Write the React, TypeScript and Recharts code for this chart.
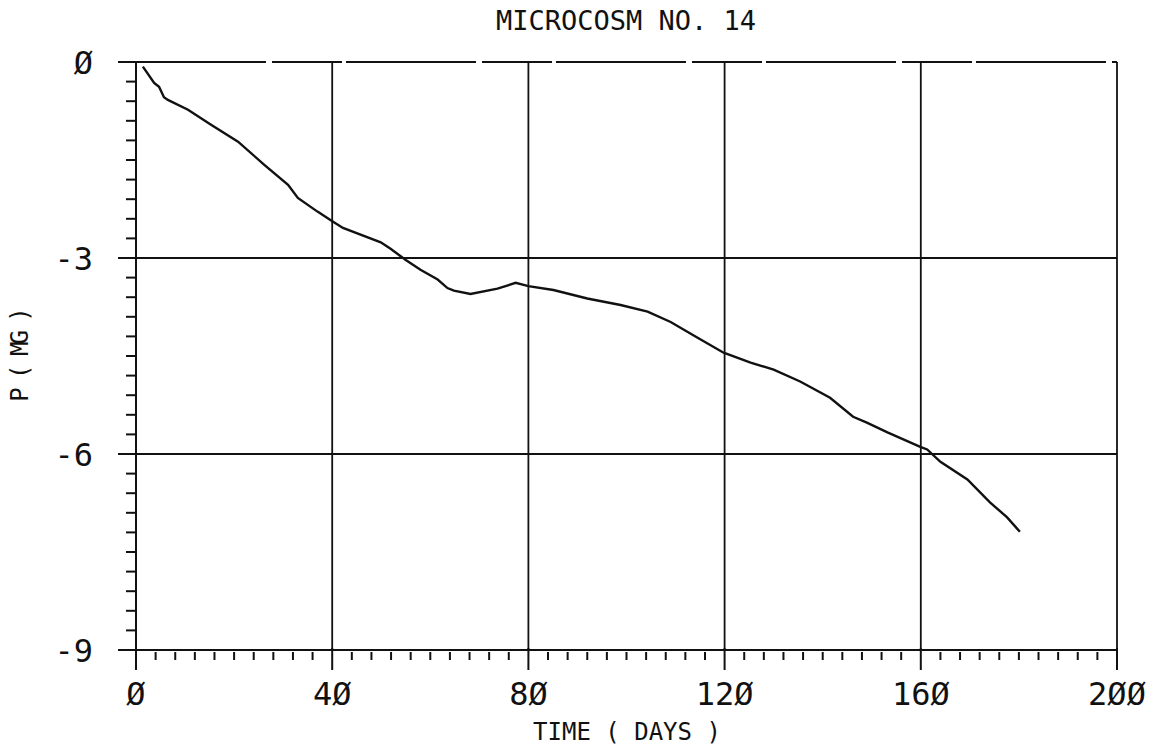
import React from 'react'
import { LineChart, Line, XAxis, YAxis, ReferenceLine } from 'recharts'

const days = [
  1.4, 3.7, 4.7, 5.7, 6.5, 10.6, 15.3, 20.8, 26.1, 31, 33, 37, 40.1, 42.2,
  49.9, 51.9, 55, 58, 61.5, 63.5, 64.8, 68.2, 73.7, 77.4, 80, 85.1, 92, 98.8,
  104.3, 109, 114.5, 119.8, 125.3, 130, 135.4, 141.5, 146.2, 149, 153.2,
  159.9, 161.3, 164, 169.5, 174.1, 177.6, 180.2,
]
const phosphorus = [
  -0.07, -0.32, -0.38, -0.54, -0.58, -0.73, -0.96, -1.22, -1.57, -1.88, -2.08,
  -2.29, -2.44, -2.54, -2.76, -2.86, -3.03, -3.18, -3.33, -3.46, -3.5, -3.55,
  -3.47, -3.38, -3.43, -3.49, -3.62, -3.72, -3.82, -3.98, -4.22, -4.45, -4.6,
  -4.71, -4.89, -5.14, -5.43, -5.52, -5.67, -5.89, -5.93, -6.12, -6.39,
  -6.74, -6.97, -7.19,
]

const xMajor = [0, 40, 80, 120, 160, 200]
const yMajor = [0, -3, -6, -9]
const xGrid = [40, 80, 120, 160]
const yGrid = [-3, -6]
const xTicks = Array.from({ length: 51 }, (_, i) => i * 4)
const yTicks = Array.from({ length: 31 }, (_, i) => Math.round(-i * 3) / 10)

const data = days.map((d, i) => ({ day: d, p: phosphorus[i] }))

const FONT = '"DejaVu Sans Mono", monospace'
const INK = '#111'

const plotterZero = (v: number) => String(v).replace(/0/g, 'Ø')

function XTick(props: any) {
  const { x, y, payload } = props
  const major = xMajor.includes(payload.value)
  return (
    <g>
      <line x1={x} x2={x} y1={major ? y - 2 : y + 2} y2={major ? y + 20 : y + 10} stroke={INK} strokeWidth={2} />
      {major && (
        <text x={x} y={y + 55} textAnchor="middle" fontFamily={FONT} fontSize={32} fill={INK}>
          {plotterZero(payload.value)}
        </text>
      )}
    </g>
  )
}

function YTick(props: any) {
  const { x, y, payload } = props
  const major = yMajor.includes(payload.value)
  return (
    <g>
      <line x1={major ? x - 18 : x - 10} x2={major ? x + 10 : x} y1={y} y2={y} stroke={INK} strokeWidth={2} />
      {major && (
        <text x={x - 43} y={y + 12} textAnchor="end" fontFamily={FONT} fontSize={32} fill={INK}>
          {plotterZero(payload.value)}
        </text>
      )}
    </g>
  )
}

export default function App() {
  return (
    <div style={{ position: 'absolute', left: 0, top: 0, width: 1153, height: 750, background: '#fff' }}>
      <LineChart width={1153} height={750} data={data} margin={{ top: 62, right: 36, left: 76, bottom: 60 }}>
        <XAxis
          dataKey="day"
          type="number"
          domain={[0, 200]}
          ticks={xTicks}
          interval={0}
          tickLine={false}
          tickSize={0}
          tickMargin={0}
          height={40}
          axisLine={{ stroke: INK, strokeWidth: 2 }}
          tick={<XTick />}
        />
        <YAxis
          type="number"
          domain={[-9, 0]}
          ticks={yTicks}
          interval={0}
          tickLine={false}
          tickSize={0}
          tickMargin={0}
          width={60}
          axisLine={{ stroke: INK, strokeWidth: 2 }}
          tick={<YTick />}
        />
        {xGrid.map(v => (
          <ReferenceLine key={`gx${v}`} x={v} stroke={INK} strokeWidth={1.8} />
        ))}
        {yGrid.map(v => (
          <ReferenceLine key={`gy${v}`} y={v} stroke={INK} strokeWidth={1.8} />
        ))}
        <ReferenceLine y={0} stroke={INK} strokeWidth={1.8} strokeDasharray="130 6 70 4" />
        <ReferenceLine x={200} stroke={INK} strokeWidth={1.8} />
        <Line
          type="linear"
          dataKey="p"
          stroke={INK}
          strokeWidth={2.4}
          dot={false}
          isAnimationActive={false}
        />
        <text x={626} y={30} textAnchor="middle" fontFamily={FONT} fontSize={27} fill={INK}>
          MICROCOSM NO. 14
        </text>
        <text x={627} y={740} textAnchor="middle" fontFamily={FONT} fontSize={24} fill={INK}>
          TIME ( DAYS )
        </text>
        <text
          x={28}
          y={356}
          textAnchor="middle"
          fontFamily={FONT}
          fontSize={24}
          letterSpacing={-3}
          fill={INK}
          transform="rotate(-90 28 356)"
        >
          P ( MG )
        </text>
      </LineChart>
    </div>
  )
}
